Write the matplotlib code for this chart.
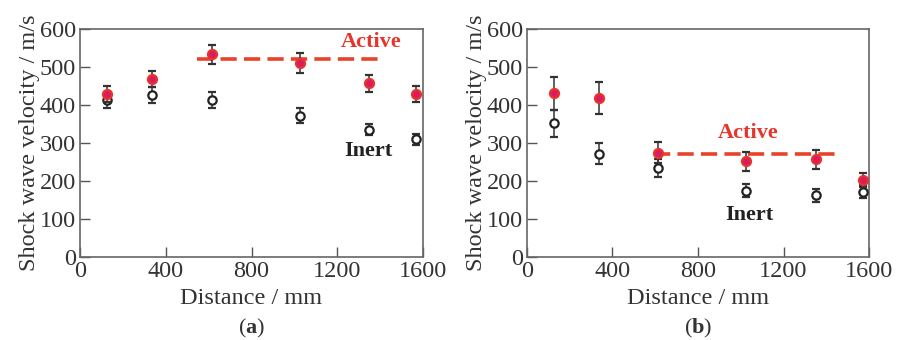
import matplotlib
matplotlib.use("Agg")
import matplotlib.pyplot as plt

plt.rcParams['font.family'] = ['Liberation Serif', 'DejaVu Serif']
plt.rcParams['mathtext.fontset'] = 'custom'
plt.rcParams['mathtext.rm'] = 'Liberation Serif'
plt.rcParams['mathtext.bf'] = 'Liberation Serif:bold'

# Panel (a)
dist_a = [125, 335, 615, 1025, 1350, 1565]
active_a = [429, 469, 533, 510, 457, 429]
active_err_a = [21, 21, 26, 26, 22, 22]
inert_a = [412, 427, 412, 372, 335, 310]
inert_err_a = [21, 21, 21, 19, 15, 15]
line_a = [544, 1390]
line_val_a = 520

# Panel (b)
dist_b = [125, 335, 615, 1025, 1352, 1570]
active_b = [431, 418, 275, 252, 257, 202]
active_err_b = [43, 42, 27, 25, 25, 19]
inert_b = [352, 272, 235, 174, 162, 172]
inert_err_b = [35, 27, 24, 17, 16, 17]
line_b = [592, 1441]
line_val_b = 271

xticks = [0, 400, 800, 1200, 1600]
yticks = [0, 100, 200, 300, 400, 500, 600]

fig = plt.figure(figsize=(8.97, 3.4), dpi=100)
ax_a = fig.add_axes([0.0892, 0.2441, 0.3824, 0.6706])
ax_b = fig.add_axes([0.5875, 0.2441, 0.3813, 0.6706])

RED = '#e8352b'
FACE = '#d81b63'
DARK = '#333333'
FS = 17.5


def draw(ax, d, act, act_e, ine, ine_e, line_x, line_v, act_pos, ine_pos, tag):
    ax.plot(line_x, [line_v, line_v], color='#e8432a', lw=2.6,
            dashes=(4.5, 2.0), zorder=2)
    ax.errorbar(d, ine, yerr=ine_e, fmt='o', ms=6, mfc='white', mec='#222222',
                mew=1.6, ecolor=DARK, elinewidth=1.1, capsize=3, capthick=1.1,
                zorder=3)
    ax.errorbar(d, act, yerr=act_e, fmt='o', ms=6.5, mfc=FACE, mec=RED,
                mew=1.6, ecolor=DARK, elinewidth=1.1, capsize=3, capthick=1.1,
                zorder=4)
    ax.text(act_pos[0], act_pos[1], 'Active', color=RED, fontsize=16,
            fontweight='bold', ha='center', va='center')
    ax.text(ine_pos[0], ine_pos[1], 'Inert', color='#222222', fontsize=16,
            fontweight='bold', ha='center', va='center')
    ax.set_xlim(0, 1600)
    ax.set_ylim(0, 600)
    ax.set_xticks(xticks)
    ax.set_yticks(yticks)
    ax.tick_params(direction='in', length=7, width=1.0, colors='#555555',
                   labelcolor='#333333', labelsize=FS, pad=3)
    for s in ax.spines.values():
        s.set_color('#666666')
        s.set_linewidth(1.2)
    ax.set_xlabel('Distance / mm', fontsize=FS, color='#333333', labelpad=4)
    ax.set_ylabel('Shock wave velocity / m/s', fontsize=FS, color='#333333',
                  labelpad=0)
    ax.text(0.5, -0.315, '($\\mathbf{' + tag + '}$)', transform=ax.transAxes,
            ha='center', va='center', fontsize=16, color='#333333')


draw(ax_a, dist_a, active_a, active_err_a, inert_a, inert_err_a,
     line_a, line_val_a, (1356, 567), (1344, 278), 'a')
draw(ax_b, dist_b, active_b, active_err_b, inert_b, inert_err_b,
     line_b, line_val_b, (1036, 326), (1040, 111), 'b')

fig.savefig('out.png', dpi=100)
